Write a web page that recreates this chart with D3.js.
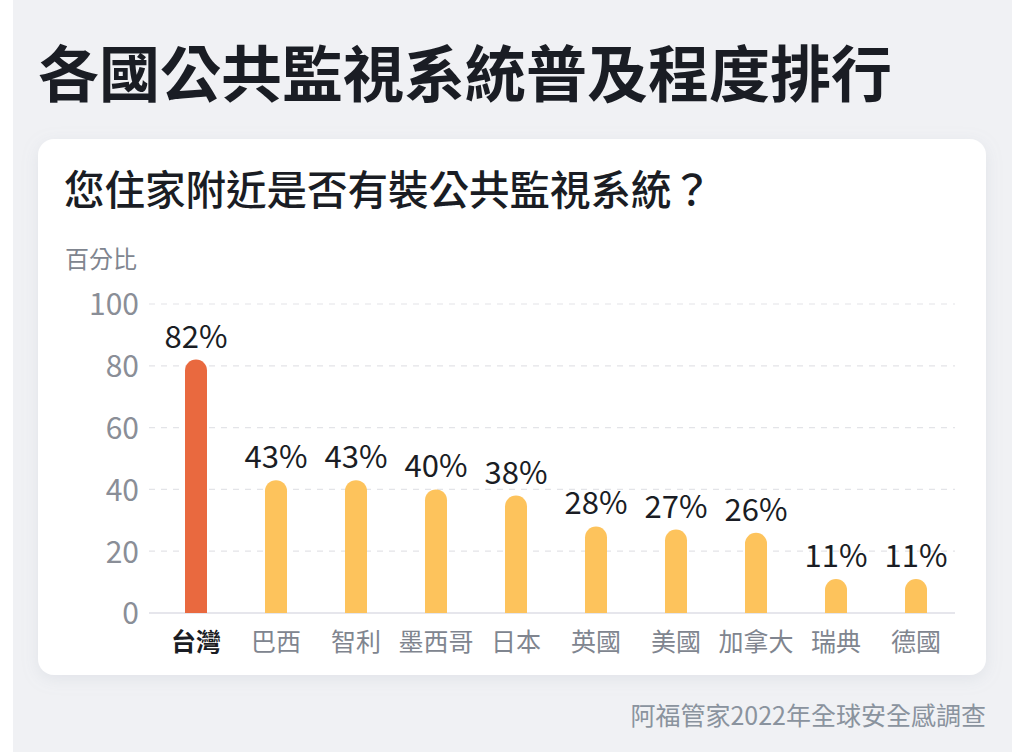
<!DOCTYPE html>
<html><head><meta charset="utf-8">
<script src="https://cdn.jsdelivr.net/npm/d3@7"></script>
<style>
html,body{margin:0;padding:0;background:#fff;}
svg{display:block;font-family:"Noto Sans CJK TC","Noto Sans",sans-serif;}
</style></head>
<body>
<svg id="chart" width="1024" height="752"></svg>
<script>
const categories = ["台灣","巴西","智利","墨西哥","日本","英國","美國","加拿大","瑞典","德國"];
const values = [82,43,43,40,38,28,27,26,11,11];
const highlight = ["台灣"];
const yTicks = [0,20,40,60,80,100];
const title = "各國公共監視系統普及程度排行";
const subtitle = "您住家附近是否有裝公共監視系統？";
const yLabel = "百分比";
const source = "阿福管家2022年全球安全感調查";

const svg = d3.select("#chart");
const defs = svg.append("defs");
const f = defs.append("filter").attr("id","sh").attr("x","-10%").attr("y","-10%").attr("width","120%").attr("height","130%");
f.append("feDropShadow").attr("dx",0).attr("dy",4).attr("stdDeviation",8).attr("flood-color","#9aa3b5").attr("flood-opacity",0.18);

svg.append("rect").attr("x",13).attr("y",0).attr("width",999).attr("height",752).attr("fill","#f0f1f4");
svg.append("rect").attr("x",38).attr("y",139).attr("width",948).attr("height",536).attr("rx",16).attr("fill","#fff").attr("filter","url(#sh)");

svg.append("text").attr("x",38).attr("y",97).attr("font-size",61).attr("font-weight",700).attr("fill","#1a1d24").text(title);
svg.append("text").attr("x",64).attr("y",205).attr("font-size",40.5).attr("font-weight",500).attr("fill","#1a1d24").text(subtitle);
svg.append("text").attr("x",65).attr("y",268).attr("font-size",24).attr("fill","#80858f").text(yLabel);

const x = d3.scaleBand().domain(categories).range([156,956]).padding(0);
const y = d3.scaleLinear().domain([0,100]).range([613,304]);

const grid = svg.append("g");
grid.selectAll("line").data(yTicks.filter(d=>d>0)).join("line")
  .attr("x1",149).attr("x2",955).attr("y1",d=>y(d)).attr("y2",d=>y(d))
  .attr("stroke","#e3e4e8").attr("stroke-width",1.2).attr("stroke-dasharray","6,6");

const yAxis = svg.append("g").attr("transform","translate(139,0)")
  .call(d3.axisLeft(y).tickValues(yTicks).tickSize(0).tickPadding(0));
yAxis.select(".domain").remove();
yAxis.selectAll("text").attr("font-size",30).attr("fill","#8a8e97").attr("font-family","\"Noto Sans CJK TC\",sans-serif").attr("dy","0.36em");

svg.append("line").attr("x1",149).attr("x2",955).attr("y1",y(0)).attr("y2",y(0)).attr("stroke","#e6e6ec").attr("stroke-width",2);

const bw = 22, r = 11;
svg.append("g").selectAll("path").data(categories).join("path")
  .attr("d",(c,i)=>{
    const cx = x(c)+x.bandwidth()/2, x0 = cx-bw/2, top = y(values[i]), bot = y(0);
    return `M${x0},${bot}L${x0},${top+r}A${r},${r} 0 0 1 ${x0+bw},${top+r}L${x0+bw},${bot}Z`;
  })
  .attr("fill",c=>highlight.includes(c)?"#e9693f":"#fdc35c");

svg.append("g").selectAll("text").data(categories).join("text")
  .attr("x",c=>x(c)+x.bandwidth()/2).attr("y",(c,i)=>y(values[i])-12)
  .attr("text-anchor","middle").attr("font-size",31).attr("fill","#1a1d24")
  .text((c,i)=>values[i]+"%");

const xAxis = svg.append("g").attr("transform",`translate(0,${y(0)})`)
  .call(d3.axisBottom(x).tickSize(0).tickPadding(0));
xAxis.select(".domain").remove();
xAxis.selectAll("text").attr("font-size",25).attr("font-family","\"Noto Sans CJK TC\",sans-serif")
  .attr("dy",0).attr("y",38)
  .attr("fill",c=>highlight.includes(c)?"#1a1d24":"#80858f")
  .attr("font-weight",c=>highlight.includes(c)?700:400);

svg.append("text").attr("x",986).attr("y",725).attr("text-anchor","end").attr("font-size",25).attr("fill","#8a939e").text(source);
</script>
</body></html>
